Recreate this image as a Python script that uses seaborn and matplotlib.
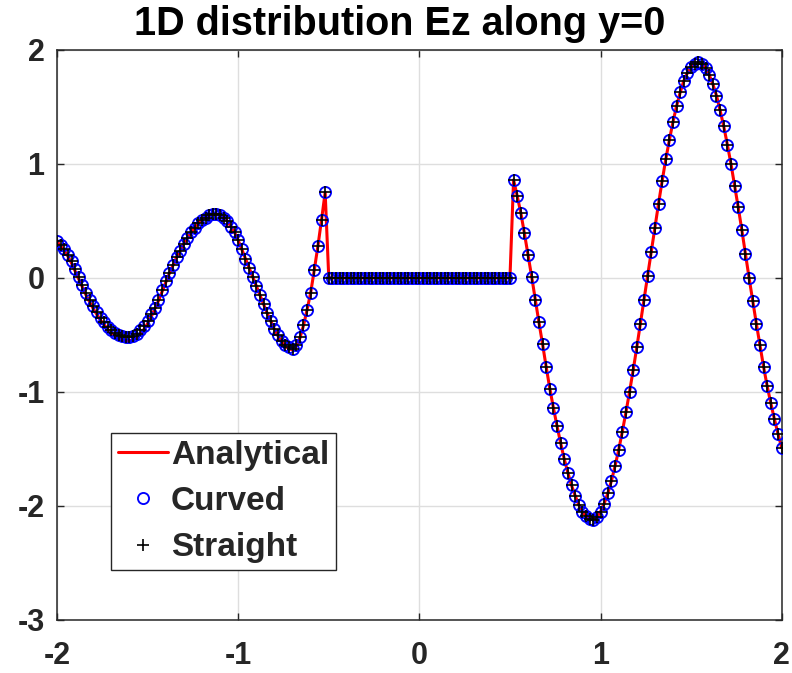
import numpy as np
import pandas as pd
import matplotlib
matplotlib.use("Agg")
import matplotlib.pyplot as plt
import seaborn as sns

# ---- data (x grid: -2..2 step 0.02) ----
x_start, x_stop, n_points = -2.0, 2.0, 201

# Curved-boundary numerical Ez, x = -2.00 ... -0.52
curved_left = [0.32, 0.29, 0.25, 0.20, 0.15, 0.08, 0.01, -0.06, -0.13, -0.19,
               -0.25, -0.30, -0.35, -0.39, -0.43, -0.46, -0.48, -0.50, -0.51, -0.52,
               -0.52, -0.51, -0.49, -0.46, -0.42, -0.38, -0.32, -0.26, -0.19, -0.11,
               -0.03, 0.04, 0.11, 0.18, 0.24, 0.30, 0.35, 0.40, 0.44, 0.48,
               0.51, 0.53, 0.55, 0.56, 0.56, 0.55, 0.53, 0.50, 0.45, 0.40,
               0.33, 0.25, 0.17, 0.09, 0.01, -0.07, -0.15, -0.23, -0.31, -0.38,
               -0.45, -0.50, -0.55, -0.59, -0.61, -0.62, -0.59, -0.52, -0.41, -0.28,
               -0.13, 0.07, 0.28, 0.51, 0.75]
# inside the cylinder, x = -0.50 ... 0.50
curved_inside = [0.0] * 51
# x = 0.52 ... 2.00
curved_right = [0.86, 0.72, 0.57, 0.39, 0.20, 0.01, -0.19, -0.39, -0.58, -0.78,
                -0.97, -1.14, -1.30, -1.45, -1.59, -1.71, -1.82, -1.91, -1.99, -2.05,
                -2.09, -2.11, -2.12, -2.10, -2.05, -1.98, -1.89, -1.78, -1.65, -1.51,
                -1.35, -1.18, -1.00, -0.81, -0.61, -0.40, -0.19, 0.02, 0.23, 0.44,
                0.65, 0.85, 1.04, 1.21, 1.37, 1.51, 1.63, 1.73, 1.80, 1.85,
                1.88, 1.89, 1.88, 1.84, 1.78, 1.70, 1.60, 1.47, 1.33, 1.17,
                1.00, 0.81, 0.62, 0.42, 0.21, 0.00, -0.20, -0.40, -0.59, -0.78,
                -0.95, -1.10, -1.24, -1.37, -1.49]

# Analytical solution (differs slightly in the first trough)
analytical_left = [0.32, 0.28, 0.24, 0.19, 0.13, 0.06, -0.01, -0.08, -0.15, -0.21,
                   -0.27, -0.32, -0.37, -0.41, -0.45, -0.48, -0.51, -0.53, -0.54, -0.55,
                   -0.55, -0.54, -0.52, -0.49, -0.45, -0.40, -0.34, -0.27, -0.20, -0.12,
                   -0.04, 0.04, 0.11, 0.18, 0.24, 0.30, 0.35, 0.40, 0.44, 0.48,
                   0.51, 0.53, 0.55, 0.56, 0.56, 0.55, 0.53, 0.50, 0.45, 0.40,
                   0.33, 0.25, 0.17, 0.09, 0.01, -0.07, -0.15, -0.23, -0.31, -0.38,
                   -0.45, -0.51, -0.56, -0.60, -0.62, -0.63, -0.60, -0.53, -0.42, -0.28,
                   -0.13, 0.07, 0.28, 0.51, 0.75]
analytical_inside = [0.0] * 51
analytical_right = list(curved_right)

# Straight-boundary numerical Ez
straight_left = list(curved_left)
straight_inside = [0.0] * 51
straight_right = list(curved_right)

title_text = "1D distribution Ez along y=0"
legend_labels = ["Analytical", "Curved", "Straight"]
x_ticks = [-2, -1, 0, 1, 2]
y_ticks = [-3, -2, -1, 0, 1, 2]

# ---- build data frame ----
x = np.round(np.linspace(x_start, x_stop, n_points), 2)
df = pd.DataFrame({
    "x": x,
    "analytical": analytical_left + analytical_inside + analytical_right,
    "curved": curved_left + curved_inside + curved_right,
    "straight": straight_left + straight_inside + straight_right,
})

# ---- style ----
sns.set_theme(style="ticks")
plt.rcParams["font.family"] = ["Liberation Sans", "DejaVu Sans"]
plt.rcParams["font.weight"] = "bold"
plt.rcParams["axes.unicode_minus"] = False

fig = plt.figure(figsize=(7.92, 6.73), dpi=100)
ax = fig.add_axes([0.072, 0.0788, 0.915, 0.847])

sns.lineplot(data=df, x="x", y="analytical", ax=ax, color="#ff0000",
             linewidth=2.2, sort=False, label=legend_labels[0], zorder=2)
sns.lineplot(data=df, x="x", y="curved", ax=ax, linestyle="none",
             marker="o", markersize=8, markerfacecolor="none",
             markeredgecolor="#0000ff", markeredgewidth=1.35, color="#0000ff",
             sort=False, label=legend_labels[1], zorder=3)
sns.lineplot(data=df, x="x", y="straight", ax=ax, linestyle="none",
             marker="+", markersize=9, markeredgecolor="black",
             markeredgewidth=1.2, color="black",
             sort=False, label=legend_labels[2], zorder=4)

ax.set_xlim(-2, 2)
ax.set_ylim(-3, 2)
ax.set_xticks(x_ticks)
ax.set_yticks(y_ticks)
ax.set_xticklabels([str(t) for t in x_ticks])
ax.set_yticklabels([str(t) for t in y_ticks])
ax.set_xlabel("")
ax.set_ylabel("")

ax.grid(True, color="#dedede", linewidth=1.0)
ax.set_axisbelow(True)
for side in ["left", "right", "top", "bottom"]:
    ax.spines[side].set_visible(True)
    ax.spines[side].set_color("#262626")
    ax.spines[side].set_linewidth(1.1)

ax.tick_params(axis="both", direction="in", length=5, width=1.0,
               colors="#262626", top=True, right=True,
               labelsize=22, labelcolor="#262626")
ax.tick_params(axis="x", pad=15)
ax.tick_params(axis="y", pad=9)
for lab in ax.get_xticklabels() + ax.get_yticklabels():
    lab.set_fontweight("bold")

ax.set_title(title_text, fontsize=28.5, fontweight="bold", color="black",
             pad=10.5, x=0.473)

leg = ax.legend(loc="lower left", bbox_to_anchor=(0.0745, 0.0877),
                borderaxespad=0, fontsize=24, frameon=True, fancybox=False,
                framealpha=1, edgecolor="#262626", handlelength=1.5,
                handletextpad=0.1, borderpad=0.2, labelspacing=0.46)
leg.get_frame().set_linewidth(1.0)
for t in leg.get_texts():
    t.set_fontweight("bold")

fig.savefig("out.png", dpi=100)
